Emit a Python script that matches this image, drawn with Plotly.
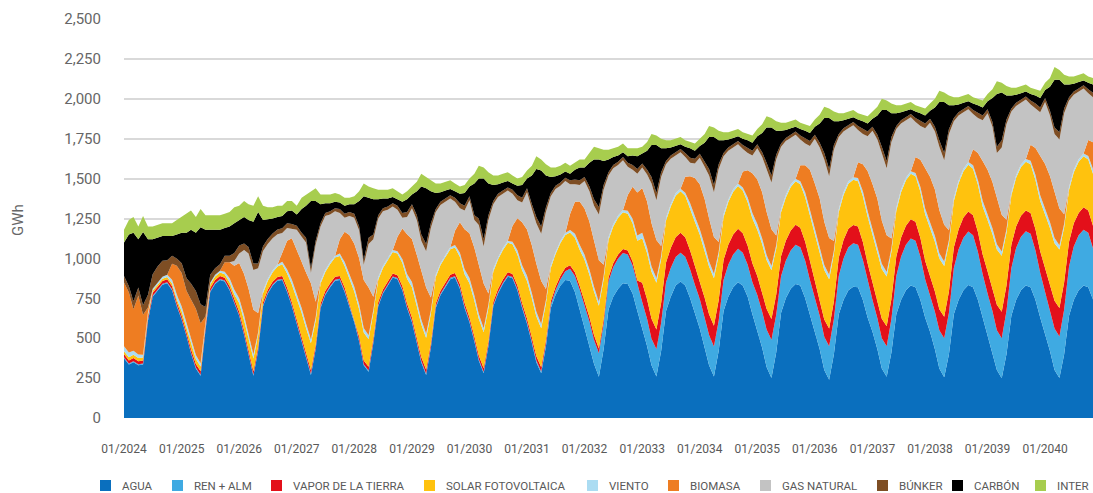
import plotly.graph_objects as go
import pandas as pd

# ---------------- data (GWh per month, 01/2024 .. 12/2040) ----------------
YEARS = list(range(2024, 2041))
MONTHS = pd.date_range("2024-01-01", periods=204, freq="MS")
TICK_VALS = [f"{y}-01-01" for y in YEARS]
TICK_TEXT = [f"01/{y}" for y in YEARS]

AGUA = [
    375, 335, 350, 330, 335, 610, 760, 800, 835, 845, 800, 700,
    615, 510, 405, 310, 265, 550, 790, 840, 865, 855, 800, 720,
    640, 520, 400, 265, 420, 700, 780, 830, 860, 865, 790, 700,
    590, 480, 370, 270, 430, 690, 770, 820, 860, 865, 790, 690,
    600, 480, 330, 290, 470, 700, 780, 830, 880, 870, 800, 690,
    600, 470, 350, 270, 440, 690, 770, 820, 870, 880, 810, 690,
    600, 480, 360, 280, 450, 700, 780, 840, 885, 875, 800, 690,
    590, 470, 350, 280, 450, 690, 770, 830, 865, 860, 790, 680,
    570, 460, 340, 259, 430, 680, 760, 810, 844, 840, 780, 670,
    560, 450, 330, 260, 420, 670, 760, 830, 855, 830, 750, 650,
    560, 440, 330, 260, 420, 670, 760, 820, 850, 830, 760, 650,
    550, 440, 320, 250, 410, 660, 750, 810, 840, 830, 750, 640,
    540, 430, 300, 240, 400, 650, 740, 800, 823, 820, 740, 630,
    540, 430, 310, 259, 410, 650, 740, 800, 830, 820, 740, 630,
    540, 430, 310, 255, 400, 650, 740, 800, 834, 820, 740, 630,
    530, 420, 300, 249, 400, 640, 740, 800, 830, 820, 740, 630,
    530, 420, 300, 250, 400, 640, 740, 800, 830, 820, 740, 630,
]

REN_ALM = [
    6, 6, 6, 6, 6, 6, 6, 6, 6, 6, 6, 6,
    6, 6, 6, 6, 6, 6, 6, 6, 6, 6, 6, 6,
    6, 6, 6, 6, 6, 6, 6, 6, 6, 6, 6, 6,
    7, 7, 7, 7, 7, 7, 7, 7, 7, 7, 7, 7,
    7, 7, 7, 7, 7, 7, 7, 7, 7, 7, 7, 7,
    8, 8, 8, 8, 8, 8, 8, 8, 8, 8, 8, 8,
    8, 8, 8, 8, 8, 8, 8, 8, 8, 8, 8, 8,
    10, 10, 12, 12, 15, 20, 30, 40, 55, 75, 100, 125,
    140, 145, 150, 146, 160, 175, 185, 190, 190, 185, 175, 165,
    167, 170, 167, 170, 175, 180, 180, 178, 180, 180, 180, 185,
    185, 188, 190, 188, 190, 195, 200, 205, 210, 205, 200, 200,
    220, 225, 235, 240, 235, 230, 235, 240, 245, 240, 235, 225,
    215, 210, 209, 210, 220, 240, 260, 270, 272, 265, 250, 230,
    200, 195, 190, 190, 210, 240, 270, 285, 295, 290, 270, 240,
    230, 235, 240, 245, 260, 290, 315, 330, 334, 325, 300, 270,
    250, 250, 250, 250, 270, 300, 325, 335, 340, 335, 310, 280,
    260, 260, 260, 260, 280, 310, 335, 345, 350, 340, 320, 290,
]

VAPOR = [
    20, 20, 20, 20, 20, 18, 18, 18, 18, 18, 20, 20,
    20, 20, 22, 22, 22, 20, 18, 18, 18, 18, 20, 20,
    20, 22, 22, 22, 22, 20, 18, 18, 18, 18, 20, 20,
    20, 22, 22, 22, 22, 20, 18, 18, 18, 18, 20, 20,
    20, 22, 24, 24, 22, 20, 18, 18, 18, 18, 20, 20,
    22, 22, 24, 24, 22, 20, 20, 20, 20, 20, 22, 22,
    22, 22, 24, 24, 22, 20, 20, 20, 20, 20, 22, 22,
    24, 24, 26, 26, 24, 22, 22, 22, 22, 22, 24, 24,
    26, 28, 30, 30, 28, 26, 25, 25, 25, 25, 26, 26,
    120, 122, 125, 125, 125, 125, 125, 125, 125, 122, 120, 120,
    120, 125, 130, 130, 128, 125, 125, 125, 125, 122, 120, 120,
    120, 125, 130, 130, 128, 125, 125, 125, 126, 122, 120, 120,
    105, 105, 108, 110, 112, 115, 115, 115, 115, 115, 112, 110,
    115, 118, 122, 126, 125, 122, 120, 120, 120, 120, 118, 115,
    125, 128, 132, 135, 132, 128, 126, 126, 126, 125, 125, 125,
    140, 148, 160, 167, 160, 145, 135, 132, 130, 130, 132, 135,
    150, 160, 175, 180, 170, 155, 145, 140, 140, 140, 142, 145,
]

SOLAR = [
    18, 20, 20, 20, 18, 15, 14, 14, 14, 14, 16, 18,
    28, 30, 32, 32, 30, 25, 22, 22, 22, 22, 25, 28,
    55, 65, 75, 80, 70, 55, 55, 60, 65, 75, 90, 110,
    130, 150, 165, 170, 150, 125, 120, 120, 120, 125, 135, 150,
    165, 172, 175, 172, 160, 140, 135, 135, 135, 135, 145, 155,
    190, 200, 205, 200, 185, 165, 160, 160, 160, 160, 170, 180,
    215, 225, 230, 225, 210, 190, 185, 185, 185, 185, 195, 205,
    235, 245, 250, 245, 230, 210, 205, 205, 205, 205, 215, 225,
    255, 265, 272, 268, 250, 235, 230, 230, 230, 230, 240, 250,
    280, 290, 295, 292, 275, 262, 260, 260, 260, 260, 265, 275,
    285, 295, 300, 298, 282, 270, 268, 268, 268, 268, 272, 280,
    290, 300, 305, 305, 288, 275, 272, 272, 272, 272, 278, 285,
    295, 305, 310, 310, 295, 285, 283, 283, 283, 283, 288, 292,
    295, 305, 312, 312, 297, 287, 285, 285, 285, 285, 290, 292,
    300, 312, 318, 318, 302, 292, 290, 290, 292, 292, 296, 300,
    320, 335, 345, 350, 330, 310, 305, 305, 305, 305, 310, 315,
    335, 350, 360, 365, 345, 325, 320, 320, 320, 320, 325, 330,
]

VIENTO = [
    30, 30, 25, 22, 18, 14, 12, 12, 12, 15, 25, 30,
    30, 30, 28, 25, 20, 15, 12, 12, 12, 15, 25, 30,
    30, 30, 28, 25, 20, 15, 12, 12, 12, 15, 25, 30,
    30, 30, 28, 25, 20, 15, 12, 12, 12, 15, 25, 30,
    30, 30, 28, 25, 20, 15, 12, 12, 12, 15, 25, 30,
    32, 32, 30, 26, 20, 15, 12, 12, 12, 16, 26, 32,
    32, 32, 30, 26, 20, 15, 12, 12, 12, 16, 26, 32,
    32, 32, 30, 26, 20, 15, 12, 12, 12, 16, 26, 32,
    32, 32, 30, 26, 22, 16, 14, 14, 14, 18, 28, 32,
    34, 34, 32, 28, 22, 18, 15, 15, 16, 20, 30, 34,
    34, 34, 32, 28, 22, 18, 15, 15, 16, 20, 30, 34,
    35, 35, 32, 28, 22, 18, 16, 16, 16, 20, 30, 35,
    35, 35, 32, 28, 22, 18, 16, 16, 16, 20, 30, 35,
    36, 36, 33, 28, 22, 18, 16, 16, 16, 20, 30, 36,
    36, 36, 33, 28, 22, 18, 16, 16, 18, 22, 30, 36,
    36, 36, 33, 28, 22, 18, 16, 16, 18, 22, 30, 36,
    36, 36, 33, 28, 22, 18, 16, 16, 18, 22, 30, 36,
]

BIOMASA = [
    400, 375, 260, 370, 250, 30, 0, 0, 0, 0, 100, 180,
    210, 200, 250, 290, 250, 20, 0, 0, 0, 60, 100, 150,
    220, 260, 280, 280, 120, 0, 0, 0, 0, 60, 180, 260,
    270, 290, 320, 350, 100, 0, 0, 0, 0, 90, 190, 250,
    270, 290, 300, 300, 80, 0, 0, 0, 0, 90, 190, 250,
    270, 290, 300, 290, 80, 0, 0, 0, 0, 90, 190, 250,
    280, 300, 300, 280, 70, 0, 0, 0, 0, 100, 200, 270,
    290, 300, 300, 270, 70, 0, 0, 0, 0, 100, 200, 270,
    290, 300, 290, 260, 70, 0, 0, 0, 0, 100, 200, 270,
    280, 290, 272, 240, 60, 0, 0, 0, 0, 100, 170, 240,
    280, 290, 270, 230, 60, 0, 0, 0, 0, 100, 170, 250,
    280, 290, 270, 230, 60, 0, 0, 0, 0, 100, 170, 250,
    280, 290, 270, 230, 60, 0, 0, 0, 0, 100, 170, 250,
    280, 290, 270, 230, 60, 0, 0, 0, 0, 100, 170, 250,
    280, 290, 270, 230, 60, 0, 0, 0, 0, 100, 170, 250,
    280, 290, 292, 230, 60, 0, 0, 0, 0, 100, 170, 250,
    280, 290, 290, 230, 60, 0, 0, 0, 0, 100, 170, 250,
]

GAS_NATURAL = [
    0, 0, 0, 0, 0, 0, 0, 0, 0, 0, 0, 0,
    0, 0, 0, 0, 0, 0, 0, 0, 0, 0, 0, 30,
    60, 150, 220, 250, 280, 250, 220, 200, 190, 120, 80, 60,
    133, 156, 188, 66, 356, 343, 338, 298, 278, 165, 88, 118,
    163, 174, 96, 272, 361, 368, 343, 303, 273, 170, 68, 108,
    193, 218, 193, 227, 435, 392, 365, 335, 305, 181, 89, 118,
    208, 173, 258, 232, 460, 407, 380, 340, 315, 201, 114, 123,
    234, 229, 252, 296, 481, 433, 396, 346, 326, 187, 110, 104,
    172, 190, 218, 286, 470, 388, 351, 316, 312, 177, 106, 117,
    129, 169, 249, 250, 433, 335, 285, 237, 229, 123, 85, 91,
    166, 203, 268, 281, 458, 362, 307, 262, 246, 140, 108, 111,
    195, 220, 268, 292, 477, 392, 337, 292, 276, 161, 137, 150,
    280, 320, 391, 387, 571, 452, 381, 331, 326, 202, 190, 218,
    334, 371, 423, 420, 606, 493, 414, 359, 339, 220, 212, 252,
    339, 364, 397, 404, 604, 482, 408, 353, 331, 221, 219, 254,
    354, 346, 280, 421, 598, 507, 434, 387, 372, 253, 248, 269,
    389, 379, 362, 432, 633, 542, 469, 424, 407, 293, 283, 304,
]

BUNKER = [
    40, 40, 50, 50, 60, 80, 90, 100, 100, 90, 50, 45,
    60, 80, 100, 110, 120, 60, 50, 40, 40, 40, 40, 50,
    50, 40, 40, 40, 30, 30, 30, 30, 30, 30, 30, 30,
    25, 25, 30, 30, 25, 20, 20, 20, 20, 25, 25, 25,
    25, 25, 30, 40, 30, 20, 20, 20, 20, 25, 30, 30,
    25, 30, 40, 45, 30, 20, 20, 20, 20, 25, 30, 30,
    25, 30, 40, 45, 30, 20, 20, 20, 20, 25, 30, 30,
    25, 30, 40, 45, 30, 20, 20, 20, 20, 25, 30, 30,
    25, 30, 40, 45, 30, 20, 20, 20, 20, 25, 30, 30,
    25, 30, 40, 45, 30, 20, 20, 20, 20, 25, 30, 30,
    25, 30, 40, 45, 30, 20, 20, 20, 20, 25, 30, 30,
    25, 30, 40, 45, 30, 20, 20, 20, 20, 25, 30, 30,
    25, 30, 40, 45, 30, 20, 20, 20, 20, 25, 30, 30,
    25, 30, 40, 45, 30, 20, 20, 20, 20, 25, 30, 30,
    25, 30, 40, 45, 30, 20, 20, 20, 20, 25, 30, 30,
    25, 30, 40, 45, 30, 20, 20, 20, 20, 25, 30, 30,
    25, 30, 40, 45, 30, 20, 20, 20, 20, 25, 30, 30,
]

CARBON = [
    211, 324, 429, 302, 458, 347, 220, 180, 155, 152, 123, 151,
    191, 284, 337, 365, 482, 484, 282, 242, 217, 174, 184, 186,
    159, 167, 169, 262, 322, 164, 124, 94, 79, 76, 74, 84,
    70, 150, 200, 420, 250, 120, 60, 50, 40, 40, 50, 50,
    60, 160, 400, 250, 220, 100, 60, 50, 40, 40, 70, 80,
    60, 150, 300, 350, 200, 100, 60, 50, 40, 40, 60, 80,
    60, 200, 250, 380, 200, 100, 60, 50, 40, 40, 60, 80,
    60, 180, 300, 350, 200, 100, 60, 50, 40, 40, 60, 80,
    60, 150, 250, 300, 150, 80, 50, 40, 30, 40, 60, 80,
    60, 120, 200, 300, 150, 80, 50, 40, 30, 40, 60, 50,
    50, 120, 200, 300, 150, 80, 50, 40, 30, 40, 50, 50,
    50, 120, 220, 300, 150, 80, 50, 40, 30, 40, 50, 50,
    50, 120, 220, 320, 150, 80, 50, 40, 30, 40, 50, 50,
    50, 120, 230, 320, 150, 80, 50, 40, 30, 40, 50, 50,
    50, 120, 240, 320, 150, 80, 50, 40, 30, 40, 50, 50,
    50, 150, 330, 300, 150, 80, 50, 40, 30, 40, 50, 60,
    50, 150, 300, 330, 150, 80, 50, 40, 30, 40, 50, 60,
]

INTER = [
    80, 90, 100, 80, 100, 80, 80, 80, 80, 80, 80, 90,
    100, 120, 120, 100, 115, 90, 90, 90, 90, 90, 90, 100,
    90, 100, 100, 100, 100, 90, 75, 70, 70, 65, 65, 60,
    55, 70, 70, 60, 80, 60, 55, 55, 55, 50, 50, 40,
    50, 60, 80, 70, 70, 60, 55, 55, 55, 50, 45, 50,
    50, 60, 80, 70, 70, 60, 55, 55, 55, 50, 45, 50,
    50, 60, 80, 70, 70, 60, 55, 55, 55, 50, 45, 50,
    50, 60, 80, 70, 70, 60, 55, 55, 55, 50, 45, 50,
    50, 60, 80, 70, 70, 60, 55, 55, 55, 50, 45, 50,
    45, 55, 70, 60, 60, 50, 45, 45, 45, 40, 40, 45,
    45, 55, 70, 60, 60, 50, 45, 45, 45, 40, 40, 45,
    45, 55, 70, 60, 60, 50, 45, 45, 45, 40, 40, 45,
    45, 55, 70, 60, 60, 50, 45, 45, 45, 40, 40, 45,
    45, 55, 70, 60, 60, 50, 45, 45, 45, 40, 40, 45,
    45, 55, 70, 60, 60, 50, 45, 45, 45, 40, 40, 45,
    45, 55, 80, 60, 60, 50, 45, 45, 45, 40, 40, 45,
    45, 55, 80, 60, 60, 50, 45, 45, 45, 40, 40, 45,
]

SERIES_NAMES = ["AGUA", "REN + ALM", "VAPOR DE LA TIERRA", "SOLAR FOTOVOLTAICA",
                "VIENTO", "BIOMASA", "GAS NATURAL", "BÚNKER", "CARBÓN", "INTER"]
SERIES_VALUES = [AGUA, REN_ALM, VAPOR, SOLAR, VIENTO, BIOMASA,
                 GAS_NATURAL, BUNKER, CARBON, INTER]
COLORS = ["#0A6FBE", "#3FAAE2", "#E3101A", "#FFC20E", "#ABDCF2",
          "#EE7D22", "#C3C3C3", "#7E4E24", "#000000", "#A7CD4E"]

# ---------------- geometry (pixels) ----------------
W, H = 1093, 493
L, R, T, B = 124, 0, 19, 75
PW, PH = W - L - R, H - T - B


def px_x(px):
    return (px - L) / PW


def px_y(py):
    return (H - B - py) / PH


# legend entries: swatch left edge (px) for each item; text follows the swatch
LEGEND_SWATCH_X = [100, 172, 271, 424, 587, 668, 760, 877, 952, 1035]
LEGEND_Y = 485.5
SW = 11

# ---------------- figure ----------------
fig = go.Figure()
for name, vals, col in zip(SERIES_NAMES, SERIES_VALUES, COLORS):
    fig.add_trace(go.Scatter(
        x=MONTHS, y=vals, name=name, mode="lines", stackgroup="one",
        line=dict(width=0, color=col), fillcolor=col, showlegend=False,
        hoverinfo="skip"))

GREY = "#666666"
shapes, annotations = [], []
for name, col, sx in zip(SERIES_NAMES, COLORS, LEGEND_SWATCH_X):
    shapes.append(dict(type="rect", xref="paper", yref="paper",
                       x0=px_x(sx), x1=px_x(sx + SW),
                       y0=px_y(LEGEND_Y + SW / 2), y1=px_y(LEGEND_Y - SW / 2),
                       fillcolor=col, line=dict(width=0)))
    annotations.append(dict(text=name, xref="paper", yref="paper",
                            x=px_x(sx + SW + 9), y=px_y(LEGEND_Y),
                            xanchor="left", yanchor="middle", showarrow=False,
                            font=dict(size=11.5, color="#595959")))
annotations.append(dict(text="GWh", textangle=-90, xref="paper", yref="paper",
                        x=px_x(18), y=px_y(220), xanchor="center",
                        yanchor="middle", showarrow=False,
                        font=dict(size=15, color=GREY)))

fig.update_layout(
    width=W, height=H,
    margin=dict(l=L, r=R, t=T, b=B),
    paper_bgcolor="white", plot_bgcolor="white",
    font=dict(family="Roboto, Arial, sans-serif", color=GREY),
    showlegend=False,
    xaxis=dict(
        type="date", range=["2024-01-01", "2040-10-31"],
        tickvals=TICK_VALS, ticktext=TICK_TEXT,
        tickfont=dict(size=12, color="#595959"),
        showgrid=False, zeroline=False, showline=False,
        ticks="", ticklabelstandoff=22),
    yaxis=dict(
        range=[0, 2500], tickvals=list(range(0, 2501, 250)), tickformat=",",
        tickfont=dict(size=15, color=GREY),
        showgrid=True, gridcolor="#D9D9D9", gridwidth=2,
        zeroline=False, showline=False, ticks="", ticklabelstandoff=22),
    shapes=shapes,
    annotations=annotations,
)

fig.write_html(
    "out.html",
    config={"displayModeBar": False},
    post_script="document.body.style.margin='0';"
                "document.body.style.overflow='hidden';")
